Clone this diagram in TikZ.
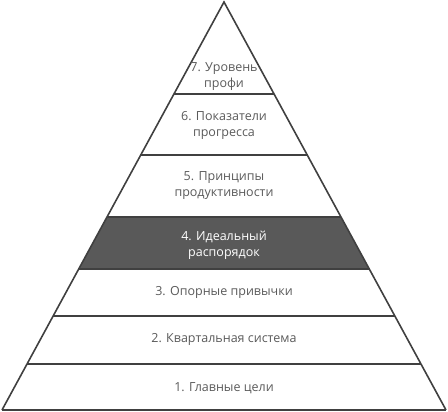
\documentclass[tikz,border=0pt]{standalone}
\usepackage{fontspec}
\setmainfont{Open Sans}
\usetikzlibrary{calc}
\definecolor{edgec}{HTML}{404040}
\definecolor{txtc}{HTML}{5A5A5A}
\definecolor{darkc}{HTML}{595959}
\begin{document}
\begin{tikzpicture}[x=1pt,y=-1pt,
  lbl/.style={text=txtc, font=\fontsize{12.5}{16}\selectfont, align=center, inner sep=0pt},
  lblw/.style={lbl, text=white},
  sep/.style={draw=edgec, line width=2pt},
  outline/.style={draw=edgec, line width=1.6pt, line join=miter}]
\useasboundingbox (0,0) rectangle (448,412);
\coordinate (A) at (224,2);
\coordinate (L) at (2,410);
\coordinate (R) at (446,410);
% dark band
\fill[darkc] ($(A)!{(217-2)/408}!(L)$) coordinate (d1) -- ($(A)!{(217-2)/408}!(R)$) coordinate (d2)
  -- ($(A)!{(269-2)/408}!(R)$) coordinate (d3) -- ($(A)!{(269-2)/408}!(L)$) coordinate (d4) -- cycle;
% separators
\foreach \y/\n in {94/s1,155/s2,217/s3,269/s4,316/s5,364/s6}{
  \draw[sep] ($(A)!{(\y-2)/408}!(L)$) coordinate (\n l) -- ($(A)!{(\y-2)/408}!(R)$) coordinate (\n r);
}
\draw[sep] (L) -- (R);
\draw[outline] (L) -- (A) -- (R);
% labels
\node[lbl] (t7) at (224,77) {7. Уровень\\профи};
\node[lbl] (t6) at (224,125) {6. Показатели\\прогресса};
\node[lbl] (t5) at (224,186) {5. Принципы\\продуктивности};
\node[lblw] (t4) at (224,245) {4. Идеальный\\распорядок};
\node[lbl] (t3) at (224,292) {3. Опорные привычки};
\node[lbl] (t2) at (224,339) {2. Квартальная система};
\node[lbl] (t1) at (224,388) {1. Главные цели};
\end{tikzpicture}
\end{document}
